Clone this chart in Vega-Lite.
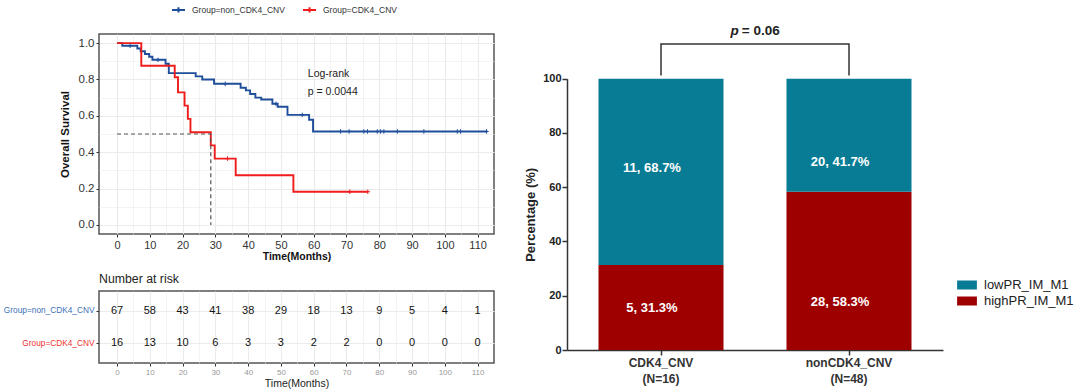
{
  "$schema": "https://vega.github.io/schema/vega-lite/v6.json",
  "padding": {"left": 2, "top": 1, "right": 0, "bottom": 0},
  "background": "white",
  "config": {
    "font": "Liberation Sans",
    "view": {"stroke": "#555555", "strokeWidth": 1.5},
    "axis": {"domain": false, "labelOverlap": false}
  },
  "datasets": {
    "km": [
      {"t": 0, "s": 1, "g": "Group=non_CDK4_CNV"},
      {"t": 1.6, "s": 0.985, "g": "Group=non_CDK4_CNV"},
      {"t": 6.2, "s": 0.97, "g": "Group=non_CDK4_CNV"},
      {"t": 7.2, "s": 0.955, "g": "Group=non_CDK4_CNV"},
      {"t": 8.5, "s": 0.94, "g": "Group=non_CDK4_CNV"},
      {"t": 9.8, "s": 0.925, "g": "Group=non_CDK4_CNV"},
      {"t": 10.8, "s": 0.908, "g": "Group=non_CDK4_CNV"},
      {"t": 14.8, "s": 0.886, "g": "Group=non_CDK4_CNV"},
      {"t": 15.8, "s": 0.835, "g": "Group=non_CDK4_CNV"},
      {"t": 24, "s": 0.817, "g": "Group=non_CDK4_CNV"},
      {"t": 26, "s": 0.8, "g": "Group=non_CDK4_CNV"},
      {"t": 29.6, "s": 0.776, "g": "Group=non_CDK4_CNV"},
      {"t": 37.7, "s": 0.754, "g": "Group=non_CDK4_CNV"},
      {"t": 39.3, "s": 0.74, "g": "Group=non_CDK4_CNV"},
      {"t": 40.6, "s": 0.72, "g": "Group=non_CDK4_CNV"},
      {"t": 42.2, "s": 0.7, "g": "Group=non_CDK4_CNV"},
      {"t": 44, "s": 0.69, "g": "Group=non_CDK4_CNV"},
      {"t": 47.4, "s": 0.666, "g": "Group=non_CDK4_CNV"},
      {"t": 49, "s": 0.65, "g": "Group=non_CDK4_CNV"},
      {"t": 52, "s": 0.605, "g": "Group=non_CDK4_CNV"},
      {"t": 58.6, "s": 0.578, "g": "Group=non_CDK4_CNV"},
      {"t": 59.8, "s": 0.514, "g": "Group=non_CDK4_CNV"},
      {"t": 113, "s": 0.514, "g": "Group=non_CDK4_CNV"},
      {"t": 0, "s": 1, "g": "Group=CDK4_CNV"},
      {"t": 7.4, "s": 0.875, "g": "Group=CDK4_CNV"},
      {"t": 17.6, "s": 0.8125, "g": "Group=CDK4_CNV"},
      {"t": 18.6, "s": 0.729, "g": "Group=CDK4_CNV"},
      {"t": 20.6, "s": 0.656, "g": "Group=CDK4_CNV"},
      {"t": 21.6, "s": 0.583, "g": "Group=CDK4_CNV"},
      {"t": 22.4, "s": 0.51, "g": "Group=CDK4_CNV"},
      {"t": 28.6, "s": 0.4375, "g": "Group=CDK4_CNV"},
      {"t": 29.8, "s": 0.3646, "g": "Group=CDK4_CNV"},
      {"t": 36.2, "s": 0.2734, "g": "Group=CDK4_CNV"},
      {"t": 53.8, "s": 0.1823, "g": "Group=CDK4_CNV"},
      {"t": 76.5, "s": 0.1823, "g": "Group=CDK4_CNV"}
    ],
    "cens": [
      {"t": 4, "s": 0.985, "g": "Group=non_CDK4_CNV"},
      {"t": 12.5, "s": 0.908, "g": "Group=non_CDK4_CNV"},
      {"t": 33, "s": 0.776, "g": "Group=non_CDK4_CNV"},
      {"t": 48.5, "s": 0.666, "g": "Group=non_CDK4_CNV"},
      {"t": 56.5, "s": 0.605, "g": "Group=non_CDK4_CNV"},
      {"t": 68.2, "s": 0.514, "g": "Group=non_CDK4_CNV"},
      {"t": 70.8, "s": 0.514, "g": "Group=non_CDK4_CNV"},
      {"t": 75.3, "s": 0.514, "g": "Group=non_CDK4_CNV"},
      {"t": 76.4, "s": 0.514, "g": "Group=non_CDK4_CNV"},
      {"t": 79.4, "s": 0.514, "g": "Group=non_CDK4_CNV"},
      {"t": 80.4, "s": 0.514, "g": "Group=non_CDK4_CNV"},
      {"t": 81.4, "s": 0.514, "g": "Group=non_CDK4_CNV"},
      {"t": 85.5, "s": 0.514, "g": "Group=non_CDK4_CNV"},
      {"t": 93.6, "s": 0.514, "g": "Group=non_CDK4_CNV"},
      {"t": 103.8, "s": 0.514, "g": "Group=non_CDK4_CNV"},
      {"t": 104.8, "s": 0.514, "g": "Group=non_CDK4_CNV"},
      {"t": 112.7, "s": 0.514, "g": "Group=non_CDK4_CNV"},
      {"t": 33.7, "s": 0.3646, "g": "Group=CDK4_CNV"},
      {"t": 71, "s": 0.1823, "g": "Group=CDK4_CNV"},
      {"t": 76.5, "s": 0.1823, "g": "Group=CDK4_CNV"}
    ],
    "med": [
      {"t": 0, "s": 0.5, "k": 0},
      {"t": 28.6, "s": 0.5, "k": 1},
      {"t": 28.6, "s": 0, "k": 2}
    ],
    "ann": [
      {"t": 58.2, "s": 0.828, "label": "Log-rank"},
      {"t": 58.2, "s": 0.73, "label": "p = 0.0044"}
    ],
    "risk": [
      {"t": 0, "g": "Group=non_CDK4_CNV", "n": 67},
      {"t": 10, "g": "Group=non_CDK4_CNV", "n": 58},
      {"t": 20, "g": "Group=non_CDK4_CNV", "n": 43},
      {"t": 30, "g": "Group=non_CDK4_CNV", "n": 41},
      {"t": 40, "g": "Group=non_CDK4_CNV", "n": 38},
      {"t": 50, "g": "Group=non_CDK4_CNV", "n": 29},
      {"t": 60, "g": "Group=non_CDK4_CNV", "n": 18},
      {"t": 70, "g": "Group=non_CDK4_CNV", "n": 13},
      {"t": 80, "g": "Group=non_CDK4_CNV", "n": 9},
      {"t": 90, "g": "Group=non_CDK4_CNV", "n": 5},
      {"t": 100, "g": "Group=non_CDK4_CNV", "n": 4},
      {"t": 110, "g": "Group=non_CDK4_CNV", "n": 1},
      {"t": 0, "g": "Group=CDK4_CNV", "n": 16},
      {"t": 10, "g": "Group=CDK4_CNV", "n": 13},
      {"t": 20, "g": "Group=CDK4_CNV", "n": 10},
      {"t": 30, "g": "Group=CDK4_CNV", "n": 6},
      {"t": 40, "g": "Group=CDK4_CNV", "n": 3},
      {"t": 50, "g": "Group=CDK4_CNV", "n": 3},
      {"t": 60, "g": "Group=CDK4_CNV", "n": 2},
      {"t": 70, "g": "Group=CDK4_CNV", "n": 2},
      {"t": 80, "g": "Group=CDK4_CNV", "n": 0},
      {"t": 90, "g": "Group=CDK4_CNV", "n": 0},
      {"t": 100, "g": "Group=CDK4_CNV", "n": 0},
      {"t": 110, "g": "Group=CDK4_CNV", "n": 0}
    ],
    "bars": [
      {"grp": "CDK4_CNV", "cls": "highPR_IM_M1", "pct": 31.3, "label": "5, 31.3%", "labelAt": 15.6},
      {"grp": "CDK4_CNV", "cls": "lowPR_IM_M1", "pct": 68.7, "label": "11, 68.7%", "labelAt": 67.2},
      {"grp": "nonCDK4_CNV", "cls": "highPR_IM_M1", "pct": 58.3, "label": "28, 58.3%", "labelAt": 17.7},
      {"grp": "nonCDK4_CNV", "cls": "lowPR_IM_M1", "pct": 41.7, "label": "20, 41.7%", "labelAt": 69.3}
    ],
    "bracket": [
      {"grp": "CDK4_CNV", "yv": 101.2, "k": 0},
      {"grp": "CDK4_CNV", "yv": 112.8, "k": 1},
      {"grp": "nonCDK4_CNV", "yv": 112.8, "k": 2},
      {"grp": "nonCDK4_CNV", "yv": 101.2, "k": 3}
    ],
    "pval": [
      {"grp": "CDK4_CNV", "yv": 117.5}
    ]
  },
  "resolve": {"scale": {"color": "independent"}, "legend": {"color": "independent"}},
  "bounds": "flush",
  "columns": 2,
  "spacing": {"row": 57, "column": 73},
  "concat": [
    {
      "width": 395,
      "height": 200,
      "layer": [
        {
          "data": {"name": "km"},
          "mark": {"type": "line", "interpolate": "step-after", "strokeWidth": 1.9},
          "encoding": {
            "x": {
              "field": "t", "type": "quantitative",
              "scale": {"domain": [-5.5, 115], "nice": false, "zero": false},
              "axis": {
                "values": [0, 5, 10, 15, 20, 25, 30, 35, 40, 45, 50, 55, 60, 65, 70, 75, 80, 85, 90, 95, 100, 105, 110],
                "tickCount": 100,
                "labelExpr": "datum.value % 10 === 0 ? datum.label : ''",
                "labelOverlap": false,
                "labelFontSize": 11, "labelColor": "#333333", "labelPadding": 2,
                "tickSize": 3,
                "tickColor": {"condition": {"test": "datum.value % 10 === 0", "value": "#333333"}, "value": "transparent"},
                "grid": true, "gridColor": "#ebebeb",
                "gridWidth": {"condition": {"test": "datum.value % 10 === 0", "value": 1.1}, "value": 0.6},
                "title": "Time(Months)", "titleFontSize": 10.5, "titleFontWeight": "bold", "titleColor": "#111111", "titlePadding": 1
              }
            },
            "y": {
              "field": "s", "type": "quantitative",
              "scale": {"domain": [-0.05, 1.05], "nice": false, "zero": false},
              "axis": {
                "values": [0, 0.1, 0.2, 0.3, 0.4, 0.5, 0.6, 0.7, 0.8, 0.9, 1.0],
                "tickCount": 100,
                "format": ".1f",
                "labelExpr": "round(datum.value * 10) % 2 === 0 ? datum.label : ''",
                "labelOverlap": false,
                "labelFontSize": 11.5, "labelColor": "#333333", "labelPadding": 2,
                "tickSize": 3,
                "tickColor": {"condition": {"test": "round(datum.value * 10) % 2 === 0", "value": "#333333"}, "value": "transparent"},
                "grid": true, "gridColor": "#ebebeb",
                "gridWidth": {"condition": {"test": "round(datum.value * 10) % 2 === 0", "value": 1.1}, "value": 0.6},
                "title": "Overall Survival", "titleFontSize": 11.5, "titleFontWeight": "bold", "titleColor": "#111111", "titlePadding": 8
              }
            },
            "color": {
              "field": "g", "type": "nominal",
              "scale": {"domain": ["Group=non_CDK4_CNV", "Group=CDK4_CNV"], "range": ["#1f4e9a", "#f01c1c"]},
              "legend": {
                "orient": "none", "legendX": 72, "legendY": -32, "direction": "horizontal",
                "title": null, "labelFontSize": 8.5, "labelColor": "#333333",
                "symbolType": "M-1,0H1M0,-0.4V0.4", "symbolSize": 169, "symbolStrokeWidth": 2,
                "symbolFillColor": "transparent",
                "labelOffset": 6, "columnPadding": 14, "padding": 0
              }
            }
          }
        },
        {
          "data": {"name": "cens"},
          "mark": {"type": "point", "shape": "M-1,0H1M0,-1V1", "size": 20, "strokeWidth": 1, "filled": false, "opacity": 1},
          "encoding": {
            "x": {"field": "t", "type": "quantitative"},
            "y": {"field": "s", "type": "quantitative"},
            "color": {"field": "g", "type": "nominal"}
          }
        },
        {
          "data": {"name": "med"},
          "mark": {"type": "line", "strokeDash": [4, 3], "color": "#555555", "strokeWidth": 1.2},
          "encoding": {
            "x": {"field": "t", "type": "quantitative"},
            "y": {"field": "s", "type": "quantitative"},
            "order": {"field": "k", "type": "quantitative"}
          }
        },
        {
          "data": {"name": "ann"},
          "mark": {"type": "text", "align": "left", "fontSize": 10.5, "color": "#222222"},
          "encoding": {
            "x": {"field": "t", "type": "quantitative"},
            "y": {"field": "s", "type": "quantitative"},
            "text": {"field": "label", "type": "nominal"}
          }
        }
      ]
    },
    {
      "width": 376,
      "height": 200,
      "view": {"stroke": null},
      "layer": [
        {
          "data": {"name": "bars"},
          "mark": {"type": "bar"},
          "encoding": {
            "x": {
              "field": "grp", "type": "nominal",
              "scale": {"domain": ["CDK4_CNV", "nonCDK4_CNV"], "paddingInner": 0.335, "paddingOuter": 0.1675},
              "axis": {
                "title": null, "labelAngle": 0, "offset": 116,
                "labelExpr": "datum.value === 'CDK4_CNV' ? ['CDK4_CNV', '(N=16)'] : ['nonCDK4_CNV', '(N=48)']",
                "labelOverlap": false,
                "labelFontSize": 12, "labelFontWeight": "bold", "labelColor": "#333333", "labelLineHeight": 16, "labelPadding": 2,
                "domain": true, "domainColor": "#333333", "domainWidth": 1.5,
                "tickSize": 5, "tickColor": "#333333", "tickWidth": 1.5
              }
            },
            "y": {
              "field": "pct", "type": "quantitative", "stack": "zero",
              "scale": {"domain": [0, 100], "nice": false, "range": [316, 44.7]},
              "axis": {
                "values": [0, 20, 40, 60, 80, 100],
                "tickCount": 100,
                "labelOverlap": false,
                "labelFontSize": 11, "labelFontWeight": "bold", "labelColor": "#222222", "labelPadding": 1,
                "domain": true, "domainColor": "#333333", "domainWidth": 1.5,
                "tickSize": 5, "tickColor": "#333333", "tickWidth": 1.5, "grid": false,
                "title": "Percentage (%)", "titleFontSize": 13, "titleFontWeight": "bold", "titleColor": "#222222", "titlePadding": 5
              }
            },
            "color": {
              "field": "cls", "type": "nominal",
              "scale": {"domain": ["lowPR_IM_M1", "highPR_IM_M1"], "range": ["#087c94", "#9e0000"]},
              "legend": {
                "orient": "none", "legendX": 391, "legendY": 242, "title": null,
                "symbolType": "M-1.1,-0.5H1.1V0.5H-1.1Z", "symbolSize": 324, "symbolStrokeWidth": 0,
                "labelFontSize": 13, "labelColor": "#222222", "labelOffset": 8, "rowPadding": 0, "padding": 0
              }
            },
            "order": {"field": "cls", "sort": "ascending"}
          }
        },
        {
          "data": {"name": "bars"},
          "mark": {"type": "text", "color": "white", "fontWeight": "bold", "fontSize": 13, "dx": -9},
          "encoding": {
            "x": {"field": "grp", "type": "nominal"},
            "y": {"field": "labelAt", "type": "quantitative"},
            "text": {"field": "label", "type": "nominal"}
          }
        },
        {
          "data": {"name": "bracket"},
          "mark": {"type": "line", "color": "#333333", "strokeWidth": 1.5},
          "encoding": {
            "x": {"field": "grp", "type": "nominal"},
            "y": {"field": "yv", "type": "quantitative"},
            "order": {"field": "k", "type": "quantitative"}
          }
        },
        {
          "data": {"name": "pval"},
          "mark": {"type": "text", "fontStyle": "italic", "fontWeight": "bold", "fontSize": 13.5, "align": "right", "dx": -16, "color": "#222222"},
          "encoding": {
            "x": {"field": "grp", "type": "nominal", "bandPosition": 1.25},
            "y": {"field": "yv", "type": "quantitative"},
            "text": {"value": "p"}
          }
        },
        {
          "data": {"name": "pval"},
          "mark": {"type": "text", "fontWeight": "bold", "fontSize": 13.5, "align": "left", "dx": -13, "color": "#222222"},
          "encoding": {
            "x": {"field": "grp", "type": "nominal", "bandPosition": 1.25},
            "y": {"field": "yv", "type": "quantitative"},
            "text": {"value": "= 0.06"}
          }
        }
      ]
    },
    {
      "width": 395,
      "height": 72,
      "title": {"text": "Number at risk", "anchor": "start", "frame": "group", "fontSize": 12.3, "fontWeight": "normal", "color": "#222222", "offset": 6},
      "data": {"name": "risk"},
      "mark": {"type": "text", "fontSize": 11, "color": "#111111"},
      "encoding": {
        "x": {
          "field": "t", "type": "quantitative",
          "scale": {"domain": [-5.5, 115], "nice": false, "zero": false},
          "axis": {
            "values": [0, 5, 10, 15, 20, 25, 30, 35, 40, 45, 50, 55, 60, 65, 70, 75, 80, 85, 90, 95, 100, 105, 110],
            "tickCount": 100,
            "labelExpr": "datum.value % 10 === 0 ? datum.label : ''",
            "labelOverlap": false,
            "labelFontSize": 8, "labelColor": "#999999", "labelPadding": 2,
            "tickSize": 3,
            "tickColor": {"condition": {"test": "datum.value % 10 === 0", "value": "#333333"}, "value": "transparent"},
            "grid": true, "gridColor": "#ebebeb",
            "gridWidth": {"condition": {"test": "datum.value % 10 === 0", "value": 1.1}, "value": 0.6},
            "title": "Time(Months)", "titleFontSize": 10.5, "titleFontWeight": "normal", "titleColor": "#222222", "titlePadding": 2
          }
        },
        "y": {
          "field": "g", "type": "nominal",
          "scale": {"type": "point", "padding": 0.6, "domain": ["Group=non_CDK4_CNV", "Group=CDK4_CNV"]},
          "axis": {
            "title": null,
            "labelFontSize": 8.3,
            "labelColor": {"condition": {"test": "datum.value === 'Group=CDK4_CNV'", "value": "#f03030"}, "value": "#3d70b8"},
            "tickSize": 3, "tickColor": "#333333", "labelPadding": 2,
            "grid": true, "gridColor": "#ebebeb", "gridWidth": 1.1
          }
        },
        "text": {"field": "n", "type": "quantitative"}
      }
    }
  ]
}
